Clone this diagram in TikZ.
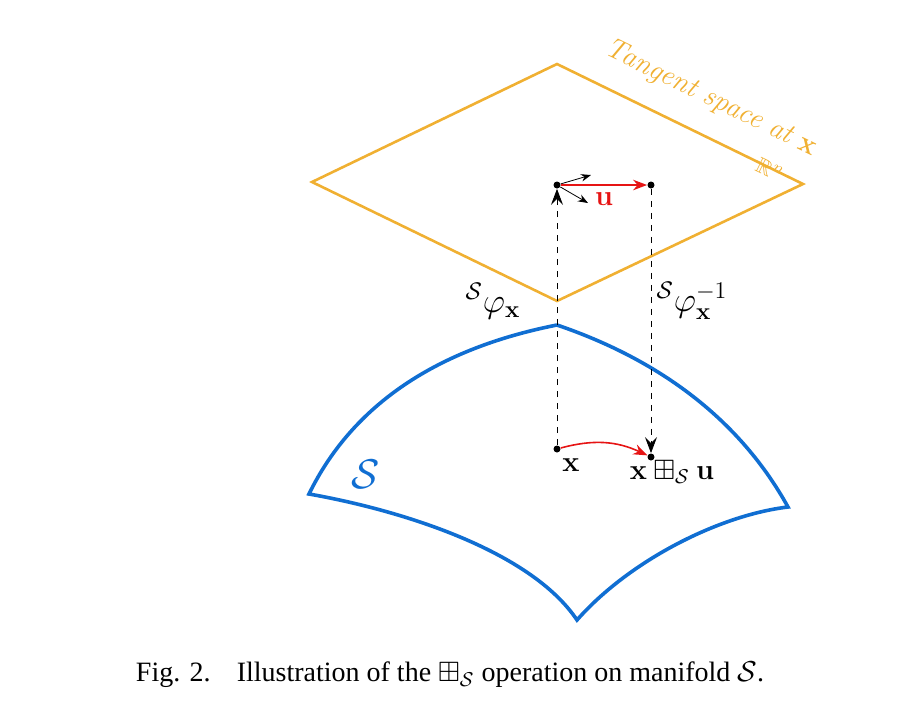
\documentclass[tikz,border=0pt]{standalone}
\usepackage{amssymb}
\usepackage[no-math]{fontspec}
\setmainfont{Liberation Serif}
\usetikzlibrary{arrows.meta}
\definecolor{tang}{RGB}{240,176,50}
\definecolor{mani}{RGB}{16,110,210}
\definecolor{redu}{RGB}{230,20,20}
\begin{document}
\begin{tikzpicture}[x=0.5pt,y=-0.5pt,
  pt/.style={circle,fill=black,inner sep=0pt,minimum size=3.5pt},
  dashln/.style={dashed,thin,black},
  lbl/.style={font=\fontsize{14}{16}\selectfont}]
\useasboundingbox (0,0) rectangle (918,720);
% tangent plane
\coordinate (T1) at (557,64); \coordinate (T2) at (803,184);
\coordinate (T3) at (557,301); \coordinate (T4) at (312,182);
\draw[tang,line width=1.3pt,line join=miter] (T1)--(T2)--(T3)--(T4)--cycle;
\node[tang,rotate=-26,anchor=south,inner sep=1pt,lbl] at (704,112) {$\mathit{Tangent\ space\ at}\ \mathbf{x}$};
\node[tang,rotate=-26,font=\fontsize{11}{13}\selectfont] at (770,170) {$\mathbb{R}^n$};
% manifold
\coordinate (M1) at (557,325); \coordinate (M2) at (788,507);
\coordinate (M3) at (577,620); \coordinate (M4) at (309,494);
\draw[mani,line width=1.8pt] (M1) .. controls (430,350) and (350,410) .. (M4)
  .. controls (400,510) and (530,550) .. (M3)
  .. controls (630,560) and (720,515) .. (M2)
  .. controls (740,420) and (660,360) .. (M1);
\node[mani,font=\fontsize{22}{24}\selectfont] at (366,474) {$\mathcal{S}$};
% points
\node[pt] (o) at (557,185) {};
\node[pt] (u) at (651,185) {};
\node[pt] (x) at (557,449) {};
\node[pt] (y) at (651,457) {};
\coordinate (a1) at (591,175); \coordinate (a2) at (588,203);
\draw[-{Stealth[length=5pt]},black] (o)--(a1);
\draw[-{Stealth[length=5pt]},black] (o)--(a2);
\draw[-{Stealth[length=7pt]},redu,thick] (o)--(u);
\node[redu,lbl] at (604,199) {$\mathbf{u}$};
\draw[dashln,-{Stealth[length=8pt,width=6pt,inset=3pt]}] (x)--(o);
\draw[dashln,-{Stealth[length=8pt,width=6pt,inset=3pt]}] (u)--(y);
\draw[-{Stealth[length=7pt]},redu,thick] (x) to[bend left=20] (y);
\node[lbl] at (571,465) {$\mathbf{x}$};
\node[lbl] at (672,472) {$\mathbf{x}\boxplus_{\mathcal S}\mathbf{u}$};
\node[font=\fontsize{17}{19}\selectfont] at (493,301) {${}^{\mathcal S}\varphi_{\mathbf x}$};
\node[font=\fontsize{17}{19}\selectfont] at (692,301) {${}^{\mathcal S}\varphi_{\mathbf x}^{-1}$};
\node[font=\fontsize{14}{16}\selectfont] at (450,675) {Fig. 2.\hspace{0.6em} Illustration of the $\boxplus_{\mathcal S}$ operation on manifold $\mathcal{S}$.};
\end{tikzpicture}
\end{document}
